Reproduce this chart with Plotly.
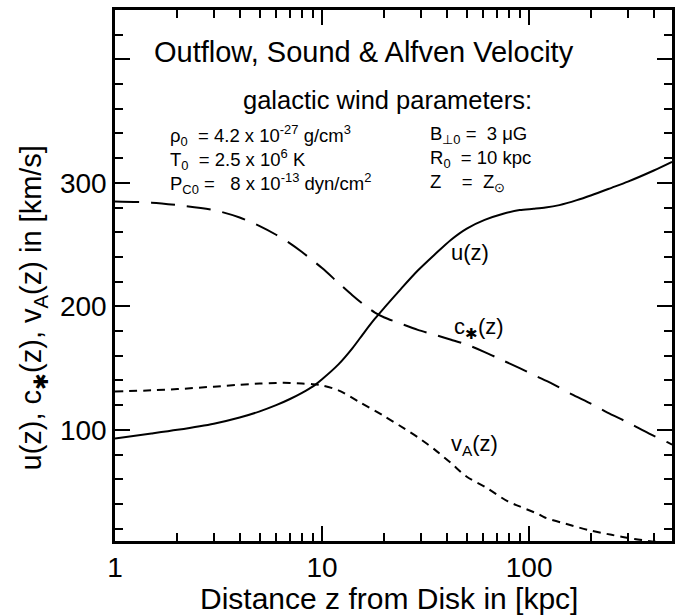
import numpy as np
import plotly.graph_objects as go

# Distance from the galactic disk z [kpc] and velocities [km/s]
z_u = [1, 1.5, 2, 3, 4, 5, 6, 7, 8, 9, 10, 12, 14, 16, 18, 20, 24, 29, 35, 42,
       50, 61, 75, 90, 105, 120, 140, 170, 200, 250, 300, 400, 490]
u_vals = [93, 97, 100, 105, 110, 115, 120, 125, 130, 135, 141, 153, 166, 179, 190,
          199, 214, 229, 242, 254, 263, 270, 275, 278, 279, 280, 282, 286, 290, 296,
          301, 310, 317]

z_c = [1, 1.5, 2, 3, 4, 5, 6, 7, 8, 10, 12, 14, 16, 18, 20, 24, 29, 35, 42, 50,
       61, 73, 90, 110, 127, 160, 200, 239, 300, 380, 465, 490]
c_vals = [285, 284, 282, 278, 272, 265, 258, 251, 244, 231, 219, 209, 201, 195, 191,
          186, 181, 177, 173, 169, 163, 157, 150, 143, 138, 129, 121, 114, 106, 97,
          90, 88]

z_a = [1, 1.5, 2, 3, 4, 5, 6, 7, 8, 9, 10, 12, 15, 20, 25, 29, 35, 42, 50, 61,
       79, 90, 110, 119, 150, 192, 250, 323, 400, 490]
va_vals = [131, 132, 133, 135, 136.5, 137.5, 138, 138, 137.5, 137, 136, 132, 123,
           111, 101, 94, 84, 73, 62, 54, 42, 38, 32, 29, 24, 19, 15, 11.6, 9.5, 8]

x_major = [1, 10, 100]
x_minor = [2, 3, 4, 5, 6, 7, 8, 9, 20, 30, 40, 50, 60, 70, 80, 90, 200, 300, 400]
y_major = [100, 200, 300, 400]
y_labels = ["100", "200", "300", ""]

# Model parameters, one column per block
params_left = ["ρ<sub>0</sub>  = 4.2 x 10<sup>-27</sup> g/cm<sup>3</sup>",
               "T<sub>0</sub>  = 2.5 x 10<sup>6</sup> K",
               "P<sub>C0</sub> =   8 x 10<sup>-13</sup> dyn/cm<sup>2</sup>"]
params_right = ["B<sub>⊥0</sub> =  3 μG",
                "R<sub>0</sub>  = 10 kpc",
                "Z    =  Z<sub>⊙</sub>"]

FONT = "Liberation Sans, Arial, sans-serif"
L, R, T, B = 115, 675, 10, 541
W, H = 679, 615


def px(xp, yp):
    """Pixel position on the page -> paper coordinates."""
    return (xp - L) / (R - L), (B - yp) / (B - T)


fig = go.Figure()
line_style = dict(color="black", width=2, shape="spline", smoothing=0.8)
fig.add_trace(go.Scatter(x=z_u, y=u_vals, mode="lines",
                         line=dict(**line_style), name="u(z)"))
fig.add_trace(go.Scatter(x=z_c, y=c_vals, mode="lines",
                         line=dict(**line_style, dash="24px,12px"), name="c*(z)"))
fig.add_trace(go.Scatter(x=z_a, y=va_vals, mode="lines",
                         line=dict(**line_style, dash="8px,6px"), name="vA(z)"))

axis_common = dict(showline=True, linecolor="black", linewidth=2.5, mirror="ticks",
                   ticks="inside", ticklen=15, tickwidth=2, tickcolor="black",
                   showgrid=False, zeroline=False,
                   tickfont=dict(family=FONT, size=28, color="black"))
fig.update_xaxes(type="log", range=[0, 2.69], tickvals=x_major,
                 ticktext=["1", "10", "100"],
                 minor=dict(tickvals=x_minor, ticks="inside", ticklen=8,
                            tickwidth=1.5, tickcolor="black", showgrid=False),
                 **axis_common)
fig.update_yaxes(range=[10, 440], tickvals=y_major, ticktext=y_labels,
                 minor=dict(dtick=20, tick0=0, ticks="inside", ticklen=8,
                            tickwidth=1.5, tickcolor="black", showgrid=False),
                 **axis_common)


def note(xp, yp, text, size, anchor="center"):
    x, y = px(xp, yp)
    fig.add_annotation(x=x, y=y, xref="paper", yref="paper", text=text,
                       showarrow=False, xanchor=anchor, yanchor="middle",
                       align="left",
                       font=dict(family=FONT, size=size, color="black"))


note(365, 52, "Outflow, Sound &amp; Alfven Velocity", 29)
note(389, 100, "galactic wind parameters:", 25.5)
note(168, 159, "<br>".join(params_left), 18.5, "left")
note(430, 159, "<br>".join(params_right), 18.5, "left")

note(472, 252, "u(z)", 22)
note(481, 328, "c<sub>✱</sub>(z)", 22)
note(476, 445, "v<sub>A</sub>(z)", 22)

note(390, 598, "Distance z from Disk in [kpc]", 30)
xa, ya = px(33, 308)
fig.add_annotation(x=xa, y=ya, xref="paper", yref="paper",
                   text="u(z), c<sub>✱</sub>(z), v<sub>A</sub>(z) in [km/s]",
                   textangle=-90, showarrow=False, xanchor="center", yanchor="middle",
                   font=dict(family=FONT, size=29, color="black"))

fig.update_layout(width=W, height=H, margin=dict(l=L, r=W - R, t=T, b=H - B),
                  plot_bgcolor="white", paper_bgcolor="white", showlegend=False)
fig.write_html("out.html")
